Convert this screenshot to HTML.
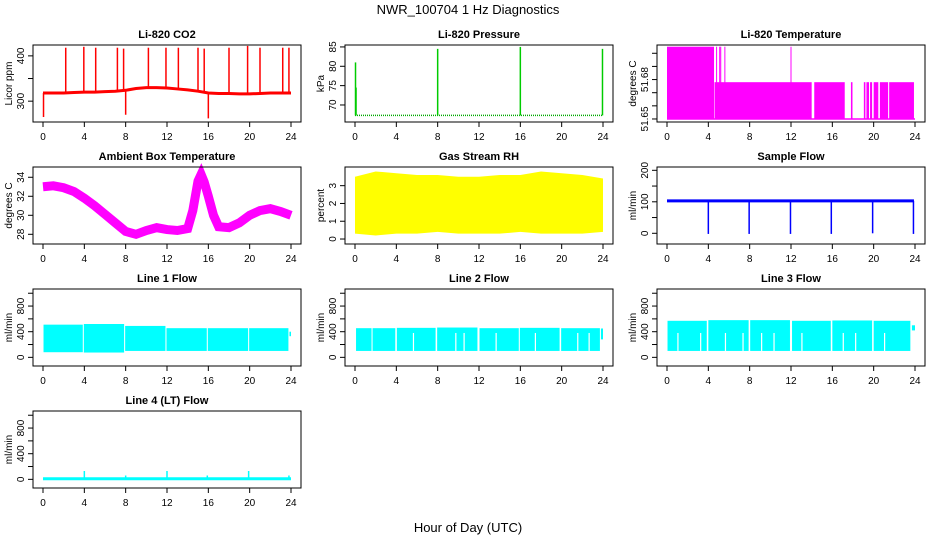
<!DOCTYPE html>
<html><head><meta charset="utf-8"><style>
body{margin:0;background:#fff}
svg{display:block;font-family:"Liberation Sans",Arial,sans-serif}
</style></head><body>
<svg id="c" width="936" height="540" viewBox="0 0 936 540">
<rect width="936" height="540" fill="#fff"/>
<text x="468" y="14" font-size="13" text-anchor="middle">NWR_100704  1 Hz Diagnostics</text>
<text x="468" y="532" font-size="13" text-anchor="middle">Hour of Day (UTC)</text>
</svg>
<script>
// ---- data ----
const xTicks=[0,4,8,12,16,20,24];
// CO2
const co2T=[0,1,2,3,4,5,6,7,8,9,10,11,12,13,14,15,16,17,18,19,20,21,22,23,24];
const co2V=[318,318,318,319,320,320,321,322,324,328,330,330,329,327,325,322,318,317,317,316,316,317,318,318,318];
const co2SpikeT=[2.2,3.95,5.1,7.2,7.8,10.2,11.9,13.1,15.0,15.6,18.0,19.8,21.0,23.2,23.8];
const co2SpikeV=[418,420,418,418,416,418,418,418,418,416,418,422,418,418,418];
const co2DipT=[0.05,8.0,16.0];
const co2DipV=[265,270,262];
// Pressure
const presBase=67.3;
const presSpikeT=[0.05,0.1,8.0,16.0,23.95];
const presSpikeV=[81,74.5,84.5,85,84.5];
// Li-820 temperature segments: start,end,top
const tempSegStart=[0,4.6,14.25,17.8,19.05,19.3,19.65,20.0,20.6,21.5];
const tempSegEnd=[4.55,14.0,17.2,17.95,19.2,19.55,19.85,20.45,21.4,23.9];
const tempSegTop=[51.705,51.678,51.678,51.678,51.678,51.678,51.678,51.678,51.678,51.678];
const tempSpikeT=[4.8,5.1,5.2,5.6,12.0];
const tempLow=51.65;
// Ambient box temperature
const ambT=[0,1,2,3,4,5,6,7,8,9,10,11,12,13,14,14.5,15,15.3,15.6,16,16.5,17,18,19,20,21,22,23,24];
const ambV=[33.0,33.1,32.9,32.5,31.8,31.0,30.1,29.2,28.3,28.0,28.4,28.7,28.5,28.4,28.6,30.5,33.6,34.3,33.5,32.0,30.0,28.8,28.7,29.2,30.0,30.5,30.7,30.4,30.0];
// RH envelope
const rhT=[0,2,4,6,8,10,12,14,16,18,20,22,24];
const rhHi=[3.5,3.8,3.7,3.6,3.6,3.5,3.5,3.6,3.6,3.8,3.7,3.6,3.4];
const rhLo=[0.3,0.2,0.3,0.3,0.4,0.3,0.3,0.3,0.4,0.3,0.3,0.3,0.4];
// Sample flow
const sfBase=103;
const sfDipT=[4.0,7.95,11.95,15.9,19.9,23.85];
const sfDipV=[-2,-2,-2,-2,0,-2];
// Line flows: blocks
const l1Start=[0.05,3.95,7.95,11.95,15.95,19.95,23.85];
const l1End=[3.85,7.85,11.85,15.85,19.85,23.75,24];
const l1Top=[510,520,490,455,455,455,400];
const l1Bot=[80,75,100,100,100,100,330];
const l2Start=[0.1,1.7,4.05,7.95,12.05,15.95,19.95,23.8];
const l2End=[1.6,3.9,7.8,11.85,15.85,19.8,23.7,24];
const l2Top=[455,455,460,465,455,460,455,450];
const l2Bot=[100,100,100,100,100,100,100,280];
const l2Gap=[5.6,9.7,10.5,13.6,17.4,21.5,22.6];
const l3Start=[0.05,4.0,8.05,12.1,16.0,20.0,23.7];
const l3End=[3.85,7.9,11.9,15.85,19.85,23.55,24];
const l3Top=[570,580,580,570,575,570,500];
const l3Bot=[100,100,100,100,100,100,420];
const l3Gap=[1.0,3.2,5.6,7.3,9.1,10.3,13.0,17.0,18.2,21.0];
// Line 4
const l4Base=10;
const l4SpikeT=[4.0,8.0,12.0,15.9,19.9,23.8];
const l4SpikeV=[130,60,130,60,130,60];

// ---- drawing ----
const svg=document.getElementById('c');
const NS='http://www.w3.org/2000/svg';
function el(tag,attrs,parent){const e=document.createElementNS(NS,tag);for(const k in attrs)e.setAttribute(k,attrs[k]);(parent||svg).appendChild(e);return e;}
const colX=[33,345,657], rowY=[45,167,289,411], BW=268, BH=77;
function panel(col,row,title,ylab,ylim,yt,ylabShow,name){
  const x0=colX[col], y0=rowY[row];
  const g=el('g',{});
  
  
  const sx=t=>x0+10+t/24*248;
  const sy=v=>y0+BH-(v-ylim[0])/(ylim[1]-ylim[0])*BH;
  const tt=el('text',{x:x0+BW/2,y:y0-7,'font-size':11,'font-weight':'bold','text-anchor':'middle'},g);
  tt.textContent=title;
  
  
  const plot=el('g',{},g);
  
  
  xTicks.forEach(t=>{
    el('line',{x1:sx(t),x2:sx(t),y1:y0+BH,y2:y0+BH+5,stroke:'#000'},g);
    const l=el('text',{x:sx(t),y:y0+BH+18,'font-size':10,'text-anchor':'middle'},g);
    l.textContent=t;
    
    
  });
  yt.forEach((v,i)=>{
    el('line',{x1:x0,x2:x0-5,y1:sy(v),y2:sy(v),stroke:'#000'},g);
    if(ylabShow[i]){
      const l=el('text',{x:0,y:0,'font-size':10,'text-anchor':'middle',transform:`translate(${x0-9},${sy(v)}) rotate(-90)`},g);
      l.textContent=ylabShow[i];
      
      
    }
  });
  const yl=el('text',{x:0,y:0,'font-size':10,'text-anchor':'middle',transform:`translate(${x0-21},${y0+BH/2}) rotate(-90)`},g);
  yl.textContent=ylab;
  
  
  el('rect',{x:x0,y:y0,width:BW,height:BH,fill:'none',stroke:'#000'},g);
  return {sx,sy,plot,g};
}
function vline(p,t,v1,v2,col,w){el('line',{x1:p.sx(t),x2:p.sx(t),y1:p.sy(v1),y2:p.sy(v2),stroke:col,'stroke-width':w||1.5},p.plot);}
function poly(p,T,V,col,w){el('polyline',{points:T.map((t,i)=>p.sx(t)+','+p.sy(V[i])).join(' '),fill:'none',stroke:col,'stroke-width':w},p.plot);}

// CO2
let p=panel(0,0,'Li-820 CO2','Licor ppm',[254,424],[300,350,400],['300','','400'],'co2');
poly(p,co2T,co2V,'#f00',3);
co2SpikeT.forEach((t,i)=>vline(p,t,co2V[Math.round(t)],co2SpikeV[i],'#f00',1.5));
co2DipT.forEach((t,i)=>vline(p,t,co2V[Math.round(t)],co2DipV[i],'#f00',1.5));
// Pressure
p=panel(1,0,'Li-820 Pressure','kPa',[65.6,85.5],[70,75,80,85],['70','75','80','85'],'pressure');
el('line',{x1:p.sx(0),x2:p.sx(24),y1:p.sy(presBase),y2:p.sy(presBase),stroke:'#0a0','stroke-width':1.5,'stroke-dasharray':'1 1'},p.plot);
presSpikeT.forEach((t,i)=>vline(p,t,presBase,presSpikeV[i],'#0c0',1.5));
// Li-820 temperature
p=panel(2,0,'Li-820 Temperature','degrees C',[51.6477,51.7063],[51.65,51.66,51.67,51.68,51.69,51.70],['51.65','','','51.68','',''],'li820-temperature');
tempSegStart.forEach((s,i)=>{el('rect',{x:p.sx(s),y:p.sy(tempSegTop[i]),width:p.sx(tempSegEnd[i])-p.sx(s),height:p.sy(tempLow)-p.sy(tempSegTop[i]),fill:'#f0f'},p.plot);});
el('line',{x1:p.sx(0),x2:p.sx(24),y1:p.sy(tempLow),y2:p.sy(tempLow),stroke:'#f0f','stroke-width':1.5},p.plot);
tempSpikeT.forEach(t=>vline(p,t,tempLow,51.705,'#f0f',1));
// Ambient
p=panel(0,1,'Ambient Box Temperature','degrees C',[26.98,35.08],[28,30,32,34],['28','30','32','34'],'ambient-temperature');
poly(p,ambT,ambV,'#f0f',9);
// RH
p=panel(1,1,'Gas Stream RH','percent',[-0.28,4.05],[0,1,2,3],['0','1','2','3'],'gas-stream-rh');
el('polygon',{points:rhT.map((t,i)=>p.sx(t)+','+p.sy(rhHi[i])).concat(rhT.slice().reverse().map((t,i)=>p.sx(t)+','+p.sy(rhLo[rhT.length-1-i]))).join(' '),fill:'#ff0'},p.plot);
// Sample flow
p=panel(2,1,'Sample Flow','ml/min',[-34,210.5],[0,50,100,150,200],['0','','100','','200'],'sample-flow');
el('line',{x1:p.sx(0),x2:p.sx(23.9),y1:p.sy(sfBase),y2:p.sy(sfBase),stroke:'#00f','stroke-width':3},p.plot);
sfDipT.forEach((t,i)=>vline(p,t,sfBase,sfDipV[i],'#00f',1.5));
// flows
function blocks(p,S,E,T,B,gaps){
  S.forEach((s,i)=>{el('rect',{x:p.sx(s),y:p.sy(T[i]),width:p.sx(E[i])-p.sx(s),height:p.sy(B[i])-p.sy(T[i]),fill:'#0ff'},p.plot);});
  (gaps||[]).forEach(t=>{el('rect',{x:p.sx(t),y:p.sy(380),width:1.2,height:p.sy(100)-p.sy(380),fill:'#fff'},p.plot);});
}
const fy=[-135,1066], ft=[0,200,400,600,800,1000], fl=['0','','400','','800',''];
p=panel(0,2,'Line 1 Flow','ml/min',fy,ft,fl,'line1-flow'); blocks(p,l1Start,l1End,l1Top,l1Bot);
p=panel(1,2,'Line 2 Flow','ml/min',fy,ft,fl,'line2-flow'); blocks(p,l2Start,l2End,l2Top,l2Bot,l2Gap);
p=panel(2,2,'Line 3 Flow','ml/min',fy,ft,fl,'line3-flow'); blocks(p,l3Start,l3End,l3Top,l3Bot,l3Gap);
p=panel(0,3,'Line 4 (LT) Flow','ml/min',fy,ft,fl,'line4-flow');
el('line',{x1:p.sx(0),x2:p.sx(24),y1:p.sy(l4Base),y2:p.sy(l4Base),stroke:'#0ff','stroke-width':3},p.plot);
l4SpikeT.forEach((t,i)=>vline(p,t,l4Base,l4SpikeV[i],'#0ff',1.5));
</script>
</body></html>
